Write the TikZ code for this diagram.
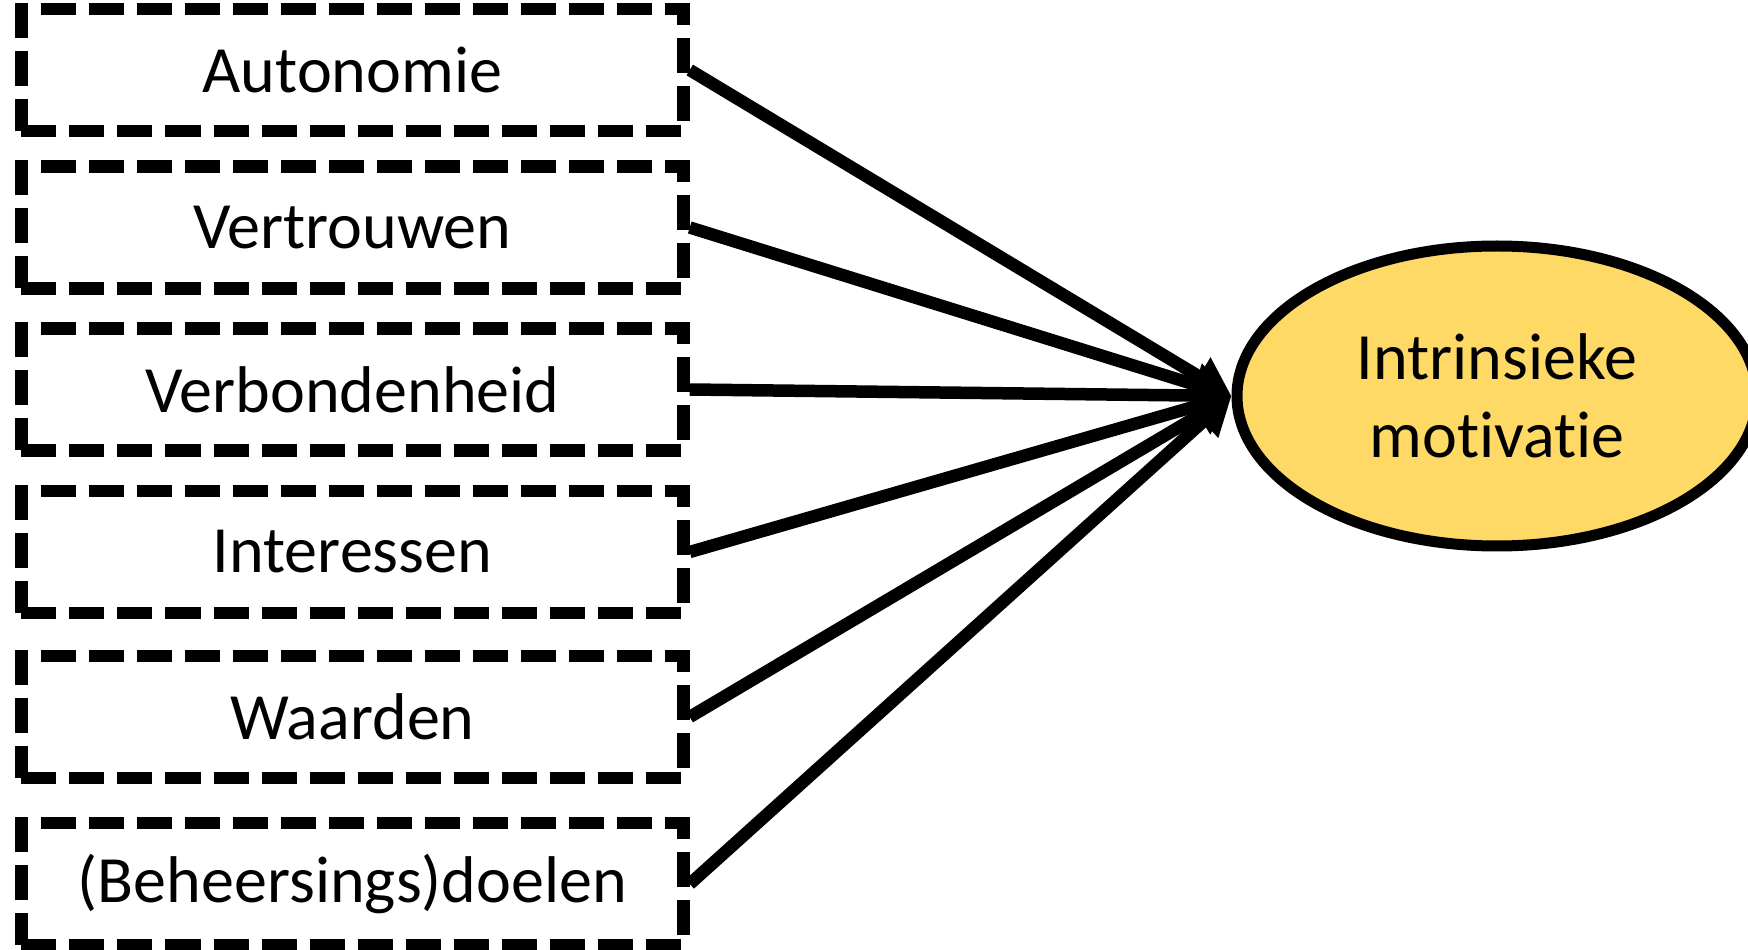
\documentclass[tikz,border=0pt]{standalone}
\usepackage{fontspec}
\setmainfont{Carlito}[Ligatures=NoCommon]
\usetikzlibrary{arrows.meta,shapes.geometric}
\definecolor{goldfill}{HTML}{FFD966}
\tikzset{
  factor/.style={draw=black, line width=1.25mm, dash pattern=on 3.5mm off 1.3mm,
    minimum width=6.62cm, minimum height=1.22cm, inner sep=0pt,
    font=\fontsize{18.8pt}{22pt}\selectfont},
  goal/.style={draw=black, fill=goldfill, ellipse, line width=1.1mm,
    minimum width=5.2cm, minimum height=3.0cm, inner sep=0pt, align=center,
    font=\fontsize{18.8pt}{7.8mm}\selectfont},
  link/.style={line width=1.25mm, -{Triangle[length=3.8mm,width=4.2mm]}}
}
\begin{document}
\begin{tikzpicture}
\useasboundingbox (0,0) rectangle (17.48,-9.5);
\clip (0,0) rectangle (17.48,-9.5);
\node[factor] (b1) at (3.525,-0.70) {Autonomie};
\node[factor] (b2) at (3.525,-2.275) {Vertrouwen};
\node[factor] (b3) at (3.525,-3.895) {Verbondenheid};
\node[factor] (b4) at (3.525,-5.52) {Interessen};
\node[factor] (b5) at (3.525,-7.17) {Waarden};
\node[factor] (b6) at (3.525,-8.84) {(Beheersings)doelen};
\node[goal] (im) at (14.97,-3.96) {Intrinsieke\\motivatie};
\foreach \b in {b1,b2,b3,b4,b5,b6}
  \draw[link] (\b.east) -- (im.west);
\end{tikzpicture}
\end{document}
